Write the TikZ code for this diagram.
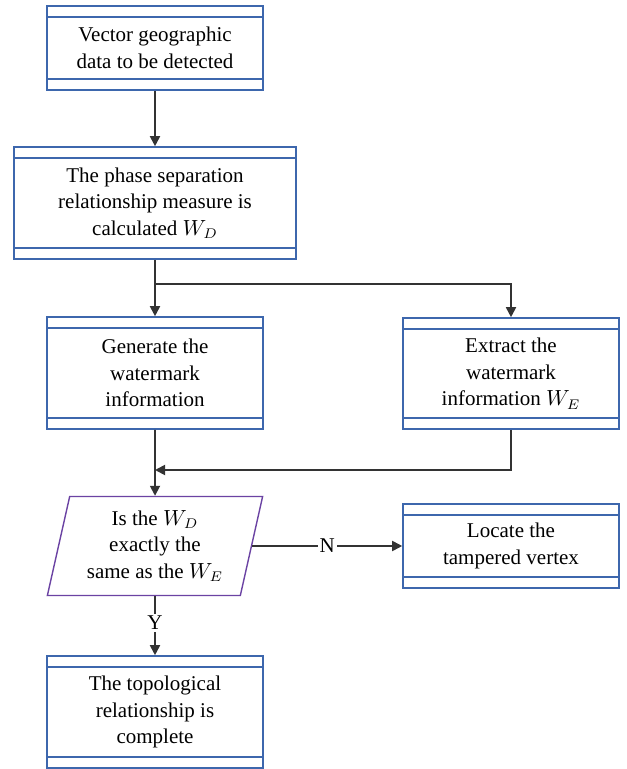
\documentclass[tikz,border=0pt]{standalone}
\usepackage{amsmath}
\usepackage{fontspec}
\setmainfont{Liberation Serif}
\usetikzlibrary{shapes.geometric,arrows.meta}
\definecolor{boxblue}{HTML}{3D67AD}
\definecolor{decpurple}{HTML}{6B43A3}
\definecolor{flowgray}{HTML}{333333}
\tikzstyle{procbox}=[rectangle, draw=boxblue, line width=0.8pt, align=center, inner sep=0pt,
    minimum width=108pt, font=\fontsize{10.5}{13.3}\selectfont,
    path picture={\draw[boxblue, line width=0.8pt]
        ([yshift=-5.5pt]path picture bounding box.north west) -- ([yshift=-5.5pt]path picture bounding box.north east)
        ([yshift=5.5pt]path picture bounding box.south west) -- ([yshift=5.5pt]path picture bounding box.south east);}]
\tikzstyle{decbox}=[trapezium, trapezium left angle=76, trapezium right angle=104, trapezium stretches=true,
    draw=decpurple, line width=0.7pt, align=center, inner sep=0pt,
    minimum width=108pt, minimum height=49.5pt, font=\fontsize{10.5}{13.3}\selectfont]
\tikzstyle{flow}=[draw=flowgray, line width=0.9pt, -{Triangle[length=5pt,width=5pt]}]
\tikzstyle{flowlabel}=[fill=white, inner sep=1pt, font=\fontsize{10.5}{13.3}\selectfont]
\newcommand{\procbox}{\node[procbox]}

\begin{document}
\begin{tikzpicture}[x=0.5pt, y=-0.5pt]
            \useasboundingbox (0,0) rectangle (626,769);
            \procbox (vec) at (155,48) [minimum height=42pt] {Vector geographic\\data to be detected};
            \procbox (phase) at (155,203) [minimum width=141pt, minimum height=56pt] {The phase separation\\relationship measure is\\calculated $W_D$};
            \procbox (gen) at (155,373) [minimum height=56pt] {Generate the\\watermark\\information};
            \procbox (ext) at (511,373.5) [minimum height=55.5pt] {Extract the\\watermark\\information $W_E$};
            \node[decbox] (dec) at (155,546) {Is the $W_D$\\exactly the\\same as the $W_E$};
            \procbox (loc) at (511,546) [minimum height=42pt] {Locate the\\tampered vertex};
            \procbox (topo) at (155,712) [minimum height=56pt] {The topological\\relationship is\\complete};
            \coordinate (split) at (155,284);
            \coordinate (merge) at (155,470);
            \path
                (vec) edge[flow] (phase)
                (phase) edge[flow] (gen)
                (gen) edge[flow] (dec)
                (dec.east) edge[flow] node[flowlabel] {N} (loc.west)
                (dec) edge[flow] node[flowlabel, pos=0.45] {Y} (topo)
            ;
            \draw[flow] (split) -| (ext.north);
            \draw[flow] (ext.south) |- (merge);
        \end{tikzpicture}
\end{document}
